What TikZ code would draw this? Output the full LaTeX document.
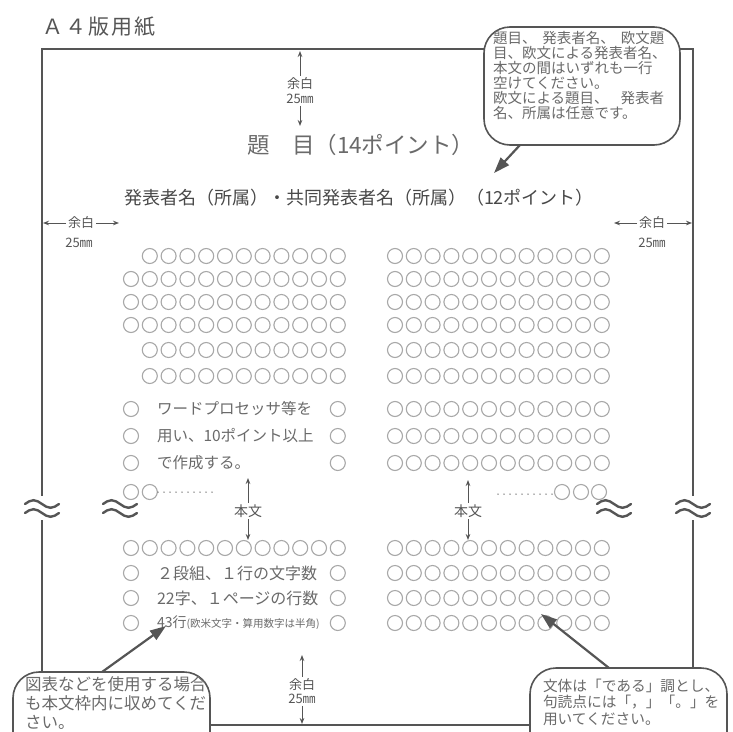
\documentclass[tikz,border=0pt]{standalone}
\usepackage{fontspec}
\setmainfont{Noto Sans CJK JP}
\newfontfamily\jp{Noto Sans CJK JP}
\usetikzlibrary{arrows.meta}
\definecolor{frame}{HTML}{555555}
\definecolor{txt}{HTML}{6A6A6A}
\definecolor{circ}{HTML}{A8A8A8}
\newcommand\fs[2]{\fontsize{#1}{#2}\selectfont}
\begin{document}
\begin{tikzpicture}[x=1pt,y=-1pt,
  every node/.style={inner sep=0pt, outer sep=0pt, font=\jp},
  mgn/.style={-{Stealth[length=6pt,width=4.6pt]}, line width=1pt, draw=frame},
  callout/.style={draw=frame, line width=1.6pt, fill=white, rounded corners=26pt},
  pointer/.style={draw=frame, line width=2.2pt, -{Triangle[length=16pt,width=11pt]}},
  ocirc/.style={draw=circ, line width=1.1pt},
  wave/.style={draw=frame, line width=2.4pt, line cap=round},
  frameline/.style={draw=frame, line width=2pt},
  lbl/.style={text=frame},
  body/.style={text=txt, anchor=west},
  dots/.style={draw=txt, line width=1.5pt, line cap=round, dash pattern=on 0pt off 6pt},
]
\useasboundingbox (0,0) rectangle (733,731);
\clip (0,0) rectangle (733,731);

% heading
\node[anchor=west, font=\jp\fs{21}{21}, text=frame] (a4) at (42,27)
  {Ａ\hspace{2.5pt}４\hspace{2.5pt}版\hspace{2pt}用\hspace{2pt}紙};

% page frame
\draw[frameline] (42,49) rectangle (693,725);

% margins: top
\node[lbl, font=\jp\fs{13}{13}] (tmy) at (300,84) {余白};
\node[lbl, font=\jp\fs{13}{13}] (tmm) at (300,99) {25㎜};
\coordinate (tmA) at (300,51);
\coordinate (tmB) at (300,126);
\draw[mgn] ([yshift=2pt]tmy.north) -- (tmA);
\draw[mgn] ([yshift=-2pt]tmm.south) -- (tmB);

% margins: left
\node[lbl, font=\jp\fs{13}{13}] (lmy) at (81,223) {余白};
\node[lbl, font=\jp\fs{13}{13}] (lmm) at (79,243) {25㎜};
\coordinate (lmA) at (43,223);
\coordinate (lmB) at (119,223);
\draw[mgn] ([xshift=-2pt]lmy.west) -- (lmA);
\draw[mgn] ([xshift=2pt]lmy.east) -- (lmB);

% margins: right
\node[lbl, font=\jp\fs{13}{13}] (rmy) at (652,223) {余白};
\node[lbl, font=\jp\fs{13}{13}] (rmm) at (652,243) {25㎜};
\coordinate (rmA) at (614,223);
\coordinate (rmB) at (692,223);
\draw[mgn] ([xshift=-2pt]rmy.west) -- (rmA);
\draw[mgn] ([xshift=2pt]rmy.east) -- (rmB);

% margins: bottom
\node[lbl, font=\jp\fs{13}{13}] (bmy) at (302,685) {余白};
\node[lbl, font=\jp\fs{13}{13}] (bmm) at (302,699) {25㎜};
\coordinate (bmA) at (302,655);
\coordinate (bmB) at (302,724);
\draw[mgn] ([yshift=2pt]bmy.north) -- (bmA);
\draw[mgn] ([yshift=-2pt]bmm.south) -- (bmB);

% title and authors
\node[anchor=west, font=\jp\fs{22.5}{22.5}, text=txt] (ttl) at (247,145) {題　目（14ポイント）};
\node[anchor=west, font=\jp\fs{18}{18}, text=frame!85!black] (auth) at (124,198) {発表者名（所属）・共同発表者名（所属）（12ポイント）};

% left column circles
\foreach \y in {256,376,350} \foreach \i in {1,...,11}
  \draw[ocirc] ({131+18.8*\i},\y) circle (7.5pt);
\foreach \y in {279,302,325,548} \foreach \i in {0,...,11}
  \draw[ocirc] ({131+18.8*\i},\y) circle (7.5pt);
\foreach \y in {409,436,463,573,598,623} {
  \draw[ocirc] (131,\y) circle (7.5pt);
  \draw[ocirc] (337.8,\y) circle (7.5pt);
}
\draw[ocirc] (131,492) circle (7.5pt);
\draw[ocirc] (149.8,492) circle (7.5pt);
\draw[dots] (158,492) -- (214,492);

% left column text
\node[body, font=\jp\fs{15.5}{15.5}] (l1) at (157,409) {ワードプロセッサ等を};
\node[body, font=\jp\fs{15.5}{15.5}] (l2) at (157,436) {用い、10ポイント以上};
\node[body, font=\jp\fs{15.5}{15.5}] (l3) at (157,463) {で作成する。};
\node[body, font=\jp\fs{16}{16}] (l4) at (157,573) {２段組、１行の文字数};
\node[body, font=\jp\fs{16}{16}] (l5) at (157,598) {22字、１ページの行数};
\node[body, font=\jp\fs{14}{14}] (l6) at (157,623) {43行{\fs{10.5}{10.5}(欧米文字・算用数字は半角)}};

% right column circles
\foreach \y in {256,279,302,325,350,376,409,436,463,548,573,598,623} \foreach \i in {0,...,11}
  \draw[ocirc] ({395+18.8*\i},\y) circle (7.5pt);
\foreach \x in {562,581,599}
  \draw[ocirc] (\x,492) circle (7.5pt);
\draw[dots] (498,494) -- (553,494);

% body markers
\node[lbl, font=\jp\fs{14}{14}] (hbL) at (248,511) {本文};
\coordinate (hbLa) at (248,478);
\coordinate (hbLb) at (248,540);
\draw[mgn] ([yshift=2pt]hbL.north) -- (hbLa);
\draw[mgn] ([yshift=-2pt]hbL.south) -- (hbLb);
\node[lbl, font=\jp\fs{14}{14}] (hbR) at (468,511) {本文};
\coordinate (hbRa) at (468,480);
\coordinate (hbRb) at (468,540);
\draw[mgn] ([yshift=2pt]hbR.north) -- (hbRa);
\draw[mgn] ([yshift=-2pt]hbR.south) -- (hbRb);

% break marks
\fill[white] (35,496) rectangle (49,520);
\fill[white] (686,496) rectangle (700,520);
\foreach \cx in {42,120,614,693} \foreach \cy in {504,513}
  \draw[wave] (\cx-17,\cy) sin (\cx-8.5,\cy-3.8) cos (\cx,\cy) sin (\cx+8.5,\cy+3.8) cos (\cx+17,\cy);

% callout top right
\node[callout, minimum width=196pt, minimum height=118pt, anchor=north west] (ctr) at (484,27) {};
\node[anchor=north west, align=left, font=\jp\fs{14.5}{15}, text=txt] (ctrt) at (493,31)
  {題目、\hspace{6pt}発表者名、\hspace{6pt}欧文題\\目、欧文による発表者名、\\本文の間はいずれも一行\\空けてください。\\欧文による題目、\hspace{12pt}発表者\\名、所属は任意です。};
\coordinate (ctrTip) at (494,173);
\draw[pointer] ([xshift=36pt]ctr.south west) -- (ctrTip);

% callout bottom left
\node[callout, minimum width=197pt, minimum height=90pt, anchor=north west] (cbl) at (13,672) {};
\node[anchor=north west, align=left, font=\jp\fs{16.5}{19}, text=txt] (cblt) at (25,677)
  {図表などを使用する場合\\も本文枠内に収めてくだ\\さい。};
\coordinate (cblTip) at (166,626);
\draw[pointer] ([xshift=89pt]cbl.north west) -- (cblTip);

% callout bottom right
\node[callout, minimum width=197pt, minimum height=90pt, anchor=north west] (cbr) at (530,668) {};
\node[anchor=north west, align=left, font=\jp\fs{14.7}{16.5}, text=txt] (cbrt) at (543,679)
  {文体は「である」調とし、\\句読点には「，」「。」を\\用いてください。};
\coordinate (cbrTip) at (541,614);
\draw[pointer] ([xshift=79pt]cbr.north west) -- (cbrTip);
\end{tikzpicture}
\end{document}
